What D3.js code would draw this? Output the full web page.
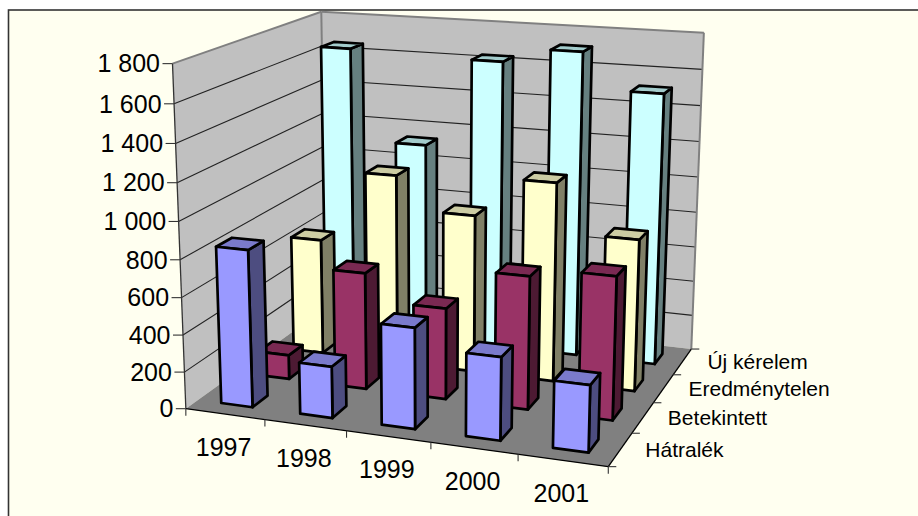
<!DOCTYPE html>
<html>
<head>
<meta charset="utf-8">
<script src="https://cdn.jsdelivr.net/npm/d3@7/dist/d3.min.js"></script>
<style>
  html, body { margin: 0; background: #fff; }
  svg { display: block; }
  text { font-family: "Liberation Sans", Arial, sans-serif; fill: #000; }
</style>
</head>
<body>
<svg id="chart" width="918" height="516"></svg>
<script>
var years = ['1997', '1998', '1999', '2000', '2001'];
var seriesNames = ['Hátralék', 'Betekintett', 'Eredménytelen', 'Új kérelem'];
var hatralek = [845, 276, 534, 435, 347];
var betekintett = [134, 640, 496, 716, 763];
var eredmenytelen = [657, 1061, 878, 1097, 831];
var ujKerelem = [1652, 1132, 1632, 1713, 1515];
var valueTicks = [0, 200, 400, 600, 800, 1000, 1200, 1400, 1600, 1800];
var seriesFills = ['#9999FF', '#993366', '#FFFFCC', '#CCFFFF'];

var allValues = [hatralek, betekintett, eredmenytelen, ujKerelem];

// reference points of the box: model [x, height, depth] -> picture [u, v]
var cameraRefs = [
  [0, 0, 0, 186, 408], [1, 0, 0, 608, 466], [1, 0, 1, 692, 348],
  [0, 1, 0, 172.7, 63], [0, 1, 1, 321, 12], [1, 1, 1, 704, 33], [0, 0, 1, 326, 308],
  [0.2, 0, 0, 265, 419], [0.4, 0, 0, 346.7, 431.5], [0.6, 0, 0, 431, 443], [0.8, 0, 0, 518, 455.5],
  [1, 0, 0.25, 631.7, 433], [1, 0, 0.5, 653, 402.7], [1, 0, 0.75, 673, 375]
];

function solve(A, b) {
  var n = b.length;
  for (var i = 0; i < n; i++) {
    var best = i;
    for (var r = i + 1; r < n; r++) if (Math.abs(A[r][i]) > Math.abs(A[best][i])) best = r;
    var t = A[i]; A[i] = A[best]; A[best] = t;
    t = b[i]; b[i] = b[best]; b[best] = t;
    for (r = i + 1; r < n; r++) {
      var f = A[r][i] / A[i][i];
      for (var c = i; c < n; c++) A[r][c] -= f * A[i][c];
      b[r] -= f * b[i];
    }
  }
  var out = [];
  for (i = n - 1; i >= 0; i--) {
    var s = b[i];
    for (c = i + 1; c < n; c++) s -= A[i][c] * out[c];
    out[i] = s / A[i][i];
  }
  return out;
}

function fitCamera(refs) {
  var rows = [], rhs = [];
  refs.forEach(function(p) {
    var X = p[0], Y = p[1], Z = p[2], u = p[3], v = p[4];
    rows.push([X, Y, Z, 1, 0, 0, 0, 0, -u * X, -u * Y, -u * Z]); rhs.push(u);
    rows.push([0, 0, 0, 0, X, Y, Z, 1, -v * X, -v * Y, -v * Z]); rhs.push(v);
  });
  var N = [], d = [];
  for (var i = 0; i < 11; i++) {
    N.push(d3.range(11).map(function(j) { return d3.sum(rows, function(r) { return r[i] * r[j]; }); }));
    d.push(d3.sum(rows, function(r, k) { return r[i] * rhs[k]; }));
  }
  return solve(N, d);
}

var cam = fitCamera(cameraRefs);

function project(x, h, z) {
  var w = cam[8] * x + cam[9] * h + cam[10] * z + 1;
  return [(cam[0] * x + cam[1] * h + cam[2] * z + cam[3]) / w,
          (cam[4] * x + cam[5] * h + cam[6] * z + cam[7]) / w];
}

var xScale = d3.scaleBand().domain(years).range([0, 1]).paddingInner(0.6).paddingOuter(0.3);
var zScale = d3.scaleBand().domain(seriesNames).range([0, 1]).paddingInner(0.6).paddingOuter(0.3);
var yScale = d3.scaleLinear().domain([0, 1800]).range([0, 1]);
var fmt = d3.formatLocale({ decimal: ',', thousands: ' ', grouping: [3], currency: ['', ''] }).format(',d');

var svg = d3.select('#chart');
var line = d3.line();

function poly(pts, fill, stroke, sw) {
  return svg.append('path').attr('d', line(pts) + 'Z')
    .attr('fill', fill).attr('stroke', stroke || 'none').attr('stroke-width', sw || 0)
    .attr('stroke-linejoin', 'round');
}
function seg(a, b, stroke, sw) {
  svg.append('line').attr('x1', a[0]).attr('y1', a[1]).attr('x2', b[0]).attr('y2', b[1])
    .attr('stroke', stroke).attr('stroke-width', sw);
}

// chart area
svg.append('rect').attr('x', 8.5).attr('y', 10).attr('width', 930).attr('height', 530)
  .attr('fill', '#FFFFF0').attr('stroke', '#333').attr('stroke-width', 1.6);

// walls and floor
poly([project(0,0,0), project(0,1,0), project(0,1,1), project(0,0,1)], '#C0C0C0');
poly([project(0,0,1), project(0,1,1), project(1,1,1), project(1,0,1)], '#C0C0C0');
poly([project(0,0,0), project(1,0,0), project(1,0,1), project(0,0,1)], '#808080');

valueTicks.forEach(function(v) {
  var h = yScale(v);
  if (v > 0 && v < 1800) {
    seg(project(0,h,0), project(0,h,1), '#222', 1.1);
    seg(project(0,h,1), project(1,h,1), '#222', 1.1);
  }
});
seg(project(0,1,0), project(0,1,1), '#808080', 2);
seg(project(0,1,1), project(1,1,1), '#808080', 2);
seg(project(0,0,1), project(0,1,1), '#808080', 2);
seg(project(1,0,1), project(1,1,1), '#808080', 2);

// axes
seg(project(0,0,0), project(0,1,0), '#333', 1.3);
seg(project(0,0,0), project(1,0,0), '#000', 1.3);
seg(project(1,0,0), project(1,0,1), '#000', 1.3);

valueTicks.forEach(function(v) {
  var p = project(0, yScale(v), 0);
  seg([p[0] - 10, p[1]], p, '#333', 1.1);
  svg.append('text').attr('x', p[0] - 12.5).attr('y', p[1]).attr('dy', '0.35em')
    .attr('text-anchor', 'end').attr('font-size', 25).text(fmt(v));
});

d3.range(years.length + 1).forEach(function(i) {
  var p = project(i / years.length, 0, 0);
  seg(p, [p[0], p[1] + 7], '#333', 1.1);
});
years.forEach(function(y) {
  var p = project(xScale(y) + xScale.bandwidth() / 2, 0, 0);
  svg.append('text').attr('x', p[0] - 1.5).attr('y', p[1] + 33).attr('dy', '0.35em')
    .attr('text-anchor', 'middle').attr('font-size', 25).text(y);
});

d3.range(seriesNames.length + 1).forEach(function(i) {
  var p = project(1, 0, i / seriesNames.length);
  seg(p, [p[0] + 8, p[1]], '#333', 1.1);
});
seriesNames.forEach(function(s) {
  var p = project(1, 0, zScale(s) + zScale.bandwidth() / 2);
  svg.append('text').attr('x', p[0] + 25).attr('y', p[1]).attr('dy', '0.35em')
    .attr('font-size', 21).text(s);
});

// bars, back row first
d3.range(seriesNames.length - 1, -1, -1).forEach(function(si) {
  var z0 = zScale(seriesNames[si]), z1 = z0 + zScale.bandwidth();
  var base = d3.color(seriesFills[si]);
  var side = d3.rgb(base.r * 0.5, base.g * 0.5, base.b * 0.5);
  var top = d3.rgb(base.r * 0.8, base.g * 0.8, base.b * 0.8);
  years.forEach(function(y, i) {
    var x0 = xScale(y), x1 = x0 + xScale.bandwidth(), h = yScale(allValues[si][i]);
    poly([project(x1,0,z0), project(x1,h,z0), project(x1,h,z1), project(x1,0,z1)], side, '#000', 2.7);
    poly([project(x0,h,z0), project(x1,h,z0), project(x1,h,z1), project(x0,h,z1)], top, '#000', 2.7);
    poly([project(x0,0,z0), project(x1,0,z0), project(x1,h,z0), project(x0,h,z0)], base, '#000', 2.7);
  });
});
</script>
</body>
</html>
